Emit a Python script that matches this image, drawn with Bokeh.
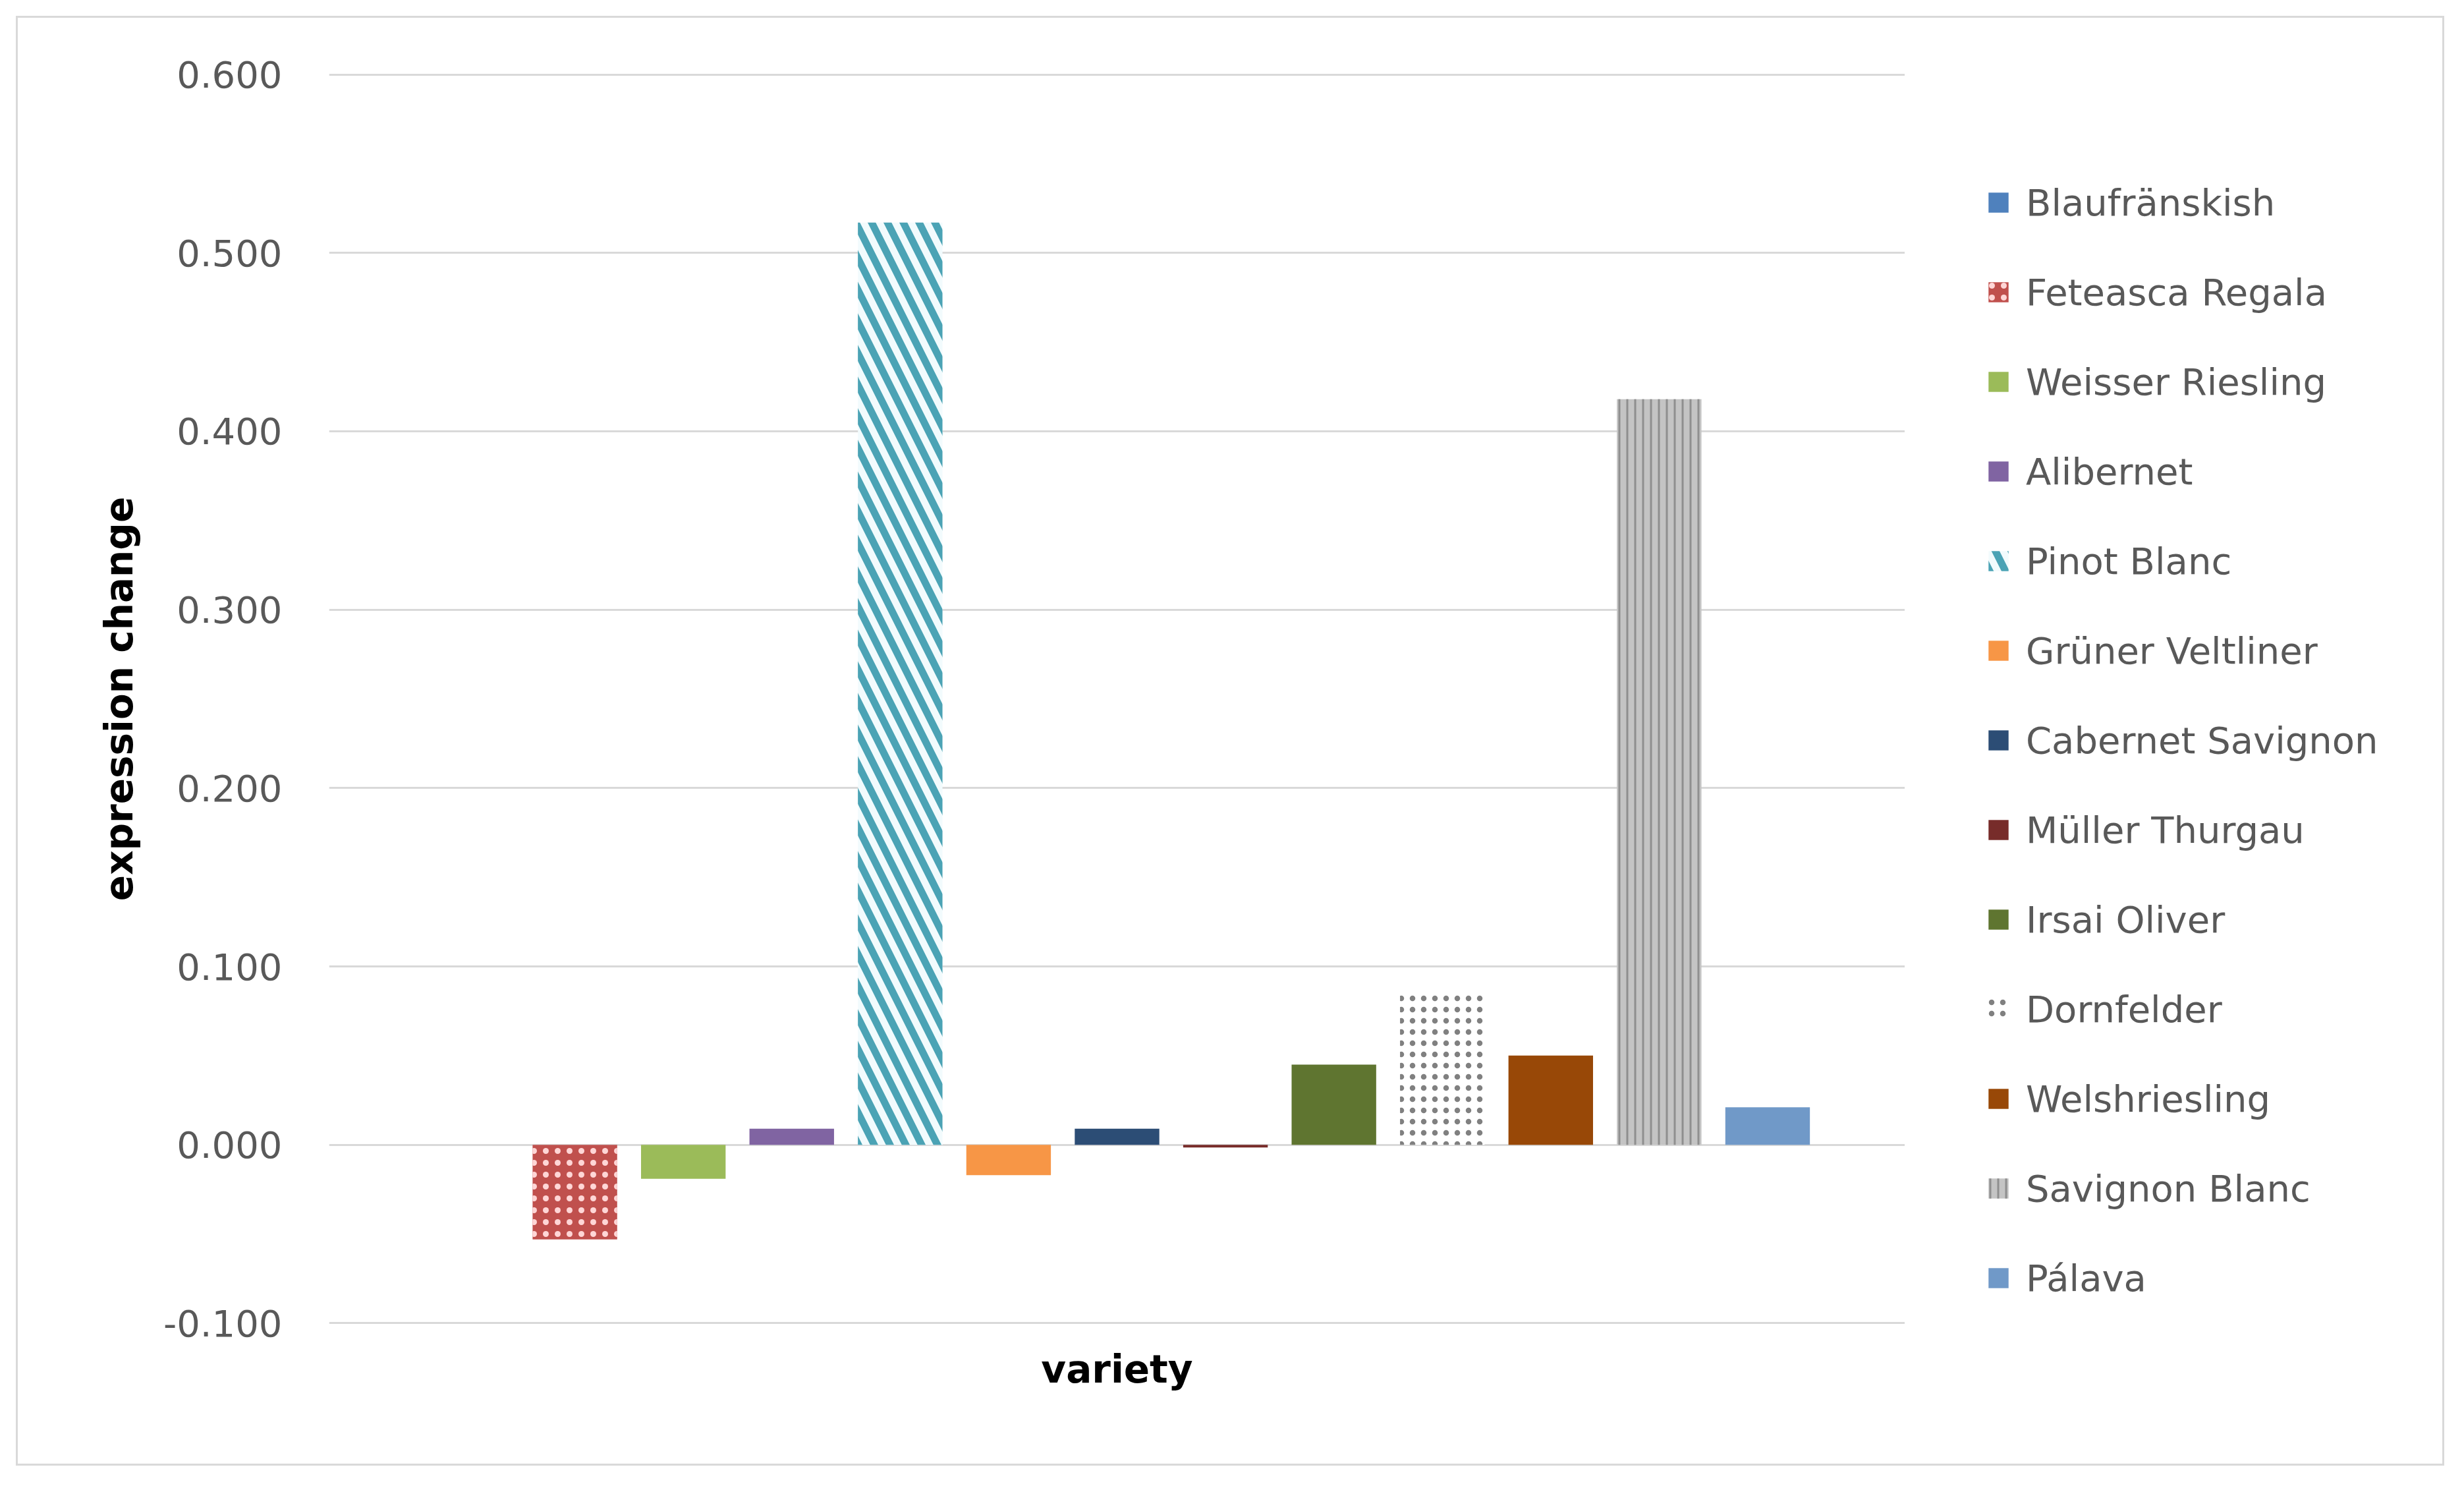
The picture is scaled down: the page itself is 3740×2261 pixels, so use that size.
from bokeh.plotting import figure
from bokeh.layouts import row
from bokeh.models import (FactorRange, Range1d, FixedTicker, NumeralTickFormatter,
                          Legend, LegendItem, Title)
from bokeh.embed import file_html
from bokeh.resources import INLINE

# ---- data ----
varieties = ["Blaufränskish", "Feteasca Regala", "Weisser Riesling", "Alibernet",
             "Pinot Blanc", "Grüner Veltliner", "Cabernet Savignon", "Müller Thurgau",
             "Irsai Oliver", "Dornfelder", "Welshriesling", "Savignon Blanc", "Pálava"]
expression_change = [0.000, -0.053, -0.019, 0.009, 0.517, -0.017, 0.009, -0.0015,
                     0.045, 0.084, 0.050, 0.418, 0.021]
y_ticks = [-0.1, 0.0, 0.1, 0.2, 0.3, 0.4, 0.5, 0.6]

# ---- styles ----
fill_colors = ["#4F81BD", "#C0504D", "#9BBB59", "#8064A2", "#F2FBFD", "#F79646",
               "#2C4D75", "#772C2A", "#5F7530", "#FFFFFF", "#984807", "#C4C4C4", "#7099C8"]
hatch_patterns = [None, ".", None, None, "\\", None, None, None, None, ".", None, "|", None]
hatch_colors = [None, "#FFD6D6", None, None, "#4BA3B5", None, None, None, None, "#808080",
                None, "#8F8F8F", None]
hatch_scales = [12, 18, 12, 12, 48, 12, 12, 12, 12, 17, 12, 12, 12]
hatch_weights = [1, 2, 1, 1, 11, 1, 1, 1, 1, 3, 1, 3, 1]

FONT = "DejaVu Sans"
TOTAL_H = 2194


def bar_style(i):
    kw = dict(fill_color=fill_colors[i], line_color=None)
    if hatch_patterns[i]:
        kw.update(hatch_pattern=hatch_patterns[i], hatch_color=hatch_colors[i],
                  hatch_scale=hatch_scales[i], hatch_weight=hatch_weights[i])
    return kw


# ---- main chart ----
p = figure(x_range=FactorRange(*varieties, range_padding=0.118, range_padding_units="percent"),
           y_range=Range1d(-0.1006, 0.6006),
           width=472 + 2392, height=TOTAL_H, output_backend="svg", toolbar_location=None,
           min_border_left=472, min_border_right=0, min_border_top=84, min_border_bottom=212)

for i, name in enumerate(varieties):
    p.vbar(x=[name], top=[expression_change[i]], bottom=0, width=0.78, **bar_style(i))

p.outline_line_color = None
p.background_fill_color = "white"
p.border_fill_color = "white"

p.xgrid.grid_line_color = None
p.ygrid.grid_line_color = "#D9D9D9"
p.ygrid.grid_line_width = 3
p.ygrid.ticker = FixedTicker(ticks=y_ticks)

p.xaxis.visible = False

ya = p.yaxis[0]
ya.ticker = FixedTicker(ticks=y_ticks)
ya.formatter = NumeralTickFormatter(format="0.000")
ya.axis_line_color = None
ya.major_tick_line_color = None
ya.minor_tick_line_color = None
ya.major_label_text_color = "#595959"
ya.major_label_text_font = FONT
ya.major_label_text_font_size = "56px"
ya.major_label_standoff = 65
ya.axis_label = "expression change"
ya.axis_label_text_font = FONT
ya.axis_label_text_font_size = "58px"
ya.axis_label_text_font_style = "bold"
ya.axis_label_text_color = "black"
ya.axis_label_standoff = 30

xt = Title(text="variety", align="center", text_font=FONT, text_font_size="58px",
           text_font_style="bold", text_color="black", standoff=64)
p.add_layout(xt, "below")

# ---- legend panel (same bars, hidden; only their legend shows) ----
pl = figure(width=816, height=TOTAL_H, output_backend="svg", toolbar_location=None,
            min_border=0, x_range=FactorRange(*varieties), y_range=Range1d(-0.1006, 0.6006))
pl.axis.visible = False
pl.grid.visible = False
pl.outline_line_color = None
pl.background_fill_color = "white"
pl.border_fill_color = "white"

items = []
for i, name in enumerate(varieties):
    r = pl.vbar(x=[name], top=[expression_change[i]], bottom=0, width=0.78, **bar_style(i))
    r.visible = False
    items.append(LegendItem(label=name, renderers=[r]))

legend = Legend(items=items, location=(123, 36), margin=0, padding=0,
                glyph_width=38, glyph_height=38, label_standoff=23,
                label_height=68, spacing=68,
                label_text_font=FONT, label_text_font_size="56px",
                label_text_color="#595959", border_line_color=None,
                background_fill_alpha=0, inactive_fill_alpha=0)
pl.add_layout(legend, "center")

page = row(p, pl, styles={"border": "3px solid #D9D9D9", "margin-left": "24px",
                          "margin-top": "24px", "background": "white"})

open("out.html", "w").write(file_html(page, INLINE))
